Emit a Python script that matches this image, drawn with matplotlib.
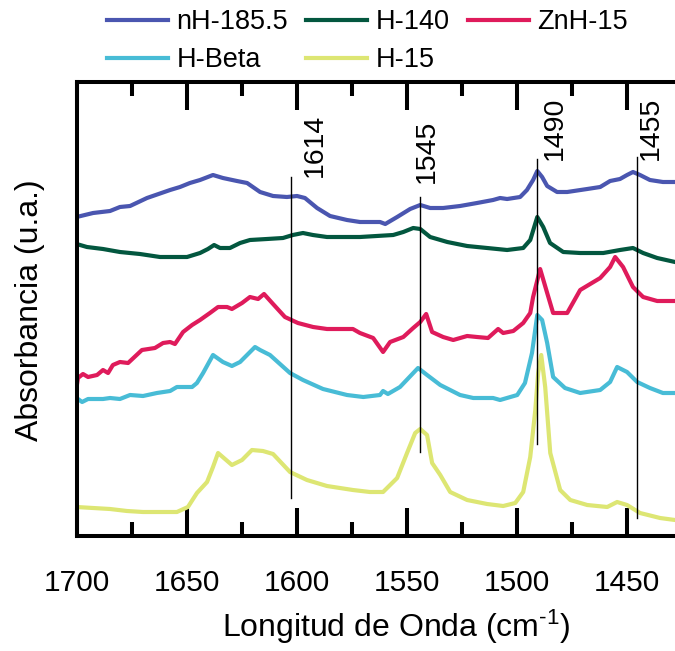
#!/usr/bin/env python
# -*- coding: utf-8 -*-
"""Espectros IR (región 1700-1425 cm-1) de cinco muestras, desplazados en vertical."""
import matplotlib

matplotlib.use("Agg")
import matplotlib.pyplot as plt
from matplotlib.ticker import MultipleLocator

plt.rcParams["font.family"] = ["Liberation Sans", "DejaVu Sans"]
plt.rcParams["mathtext.fontset"] = "custom"
plt.rcParams["mathtext.rm"] = "Liberation Sans"
plt.rcParams["mathtext.default"] = "regular"

# --- datos (número de onda, absorbancia con desplazamiento) ---
wn_nh185 = [1700, 1692.5, 1684.8, 1680.3, 1675.7, 1668, 1657.5, 1653, 1648.5, 1643.9,
            1638, 1633.5, 1627.1, 1622.5, 1616.6, 1610.7, 1604.4, 1599.8, 1596.2, 1590.7,
            1584.8, 1577.1, 1571.2, 1562.1, 1559.7, 1554.3, 1548.4, 1543.8, 1539.3, 1533.4,
            1525.7, 1518, 1510.7, 1507.5, 1504.3, 1498.4, 1495.3, 1492.5, 1490.6, 1488.4,
            1486.1, 1481.6, 1477, 1467.9, 1462, 1457.5, 1453, 1449.8, 1447.1, 1443.9,
            1439.4, 1433.5, 1428]
ab_nh185 = [3.19, 3.23, 3.25, 3.29, 3.30, 3.38, 3.46, 3.49, 3.53, 3.56,
            3.61, 3.58, 3.55, 3.53, 3.44, 3.40, 3.39, 3.40, 3.38, 3.28,
            3.20, 3.16, 3.14, 3.14, 3.12, 3.19, 3.27, 3.31, 3.28, 3.28,
            3.30, 3.33, 3.36, 3.38, 3.37, 3.39, 3.46, 3.56, 3.65, 3.59,
            3.50, 3.44, 3.44, 3.47, 3.49, 3.55, 3.57, 3.61, 3.64, 3.61,
            3.56, 3.54, 3.54]

wn_h140 = [1700, 1695.3, 1688, 1680.3, 1671.2, 1662.1, 1649.8, 1643.9, 1640.3, 1637.5,
           1634.8, 1630.3, 1625.7, 1621.2, 1613.5, 1606.2, 1601.7, 1597.1, 1592.6, 1586.2,
           1571.2, 1556.1, 1551.5, 1547, 1543.8, 1539.3, 1531.5, 1522.5, 1513.4, 1504.3,
           1497, 1493.8, 1490.6, 1487.9, 1484.8, 1478.8, 1471.1, 1460.6, 1453, 1447.1,
           1442.5, 1436.1, 1428]
ab_h140 = [2.92, 2.89, 2.87, 2.84, 2.82, 2.79, 2.79, 2.83, 2.87, 2.91,
           2.88, 2.88, 2.93, 2.96, 2.97, 2.98, 3.01, 3.03, 3.01, 2.99,
           2.99, 3.01, 3.04, 3.08, 3.07, 2.99, 2.94, 2.90, 2.88, 2.86,
           2.88, 2.96, 3.19, 3.09, 2.93, 2.84, 2.83, 2.83, 2.86, 2.88,
           2.83, 2.78, 2.74]

wn_znh15 = [1700, 1699.4, 1697.1, 1694.8, 1690.7, 1688, 1685.7, 1683.5, 1680.3, 1676.6,
            1670.3, 1664.4, 1660.7, 1657.5, 1655.3, 1651.6, 1647.5, 1643.9, 1639.4, 1635.7,
            1631.6, 1629.4, 1624.8, 1621.2, 1617.5, 1614.8, 1610.7, 1605.3, 1599.4, 1592.5,
            1586.2, 1574.4, 1571.2, 1565.2, 1560.7, 1557.5, 1551.5, 1547, 1543.8, 1541.1,
            1538.4, 1533.4, 1528.8, 1522.5, 1518, 1513, 1508.4, 1506.1, 1501.5, 1497,
            1493.8, 1492.5, 1489.3, 1486.1, 1483.4, 1477, 1471.1, 1462, 1457.5, 1455.2,
            1451.6, 1447.1, 1442.5, 1436.1, 1428]
ab_znh15 = [1.49, 1.58, 1.62, 1.59, 1.61, 1.66, 1.63, 1.71, 1.74, 1.73,
            1.86, 1.88, 1.93, 1.94, 1.92, 2.04, 2.11, 2.16, 2.23, 2.29,
            2.29, 2.27, 2.33, 2.39, 2.37, 2.42, 2.32, 2.19, 2.13, 2.09,
            2.07, 2.07, 2.03, 1.98, 1.84, 1.94, 1.99, 2.08, 2.14, 2.22,
            2.04, 1.99, 1.96, 2.00, 1.99, 1.98, 2.07, 2.03, 2.05, 2.13,
            2.23, 2.39, 2.67, 2.43, 2.23, 2.23, 2.46, 2.58, 2.69, 2.79,
            2.69, 2.49, 2.39, 2.35, 2.35]

wn_hbeta = [1700, 1697.5, 1694.8, 1688, 1684.8, 1680.3, 1675.7, 1669.8, 1663.5, 1657.5,
            1654.4, 1647.5, 1645.3, 1642.5, 1638, 1633.5, 1629.4, 1625.7, 1618.9, 1616.6,
            1612.1, 1603, 1597.1, 1588, 1577.1, 1569.7, 1562.1, 1560.7, 1558.5, 1553,
            1544.8, 1540.7, 1534.7, 1525.7, 1519.7, 1510.7, 1507.5, 1499.7, 1496.2, 1493,
            1490.6, 1488.4, 1486.1, 1483.4, 1478, 1471.1, 1462, 1457.5, 1454.3, 1449.8,
            1445.2, 1439.4, 1433.5, 1428]
ab_hbeta = [1.38, 1.34, 1.37, 1.37, 1.38, 1.37, 1.41, 1.40, 1.43, 1.45,
            1.49, 1.49, 1.53, 1.63, 1.81, 1.74, 1.70, 1.74, 1.89, 1.86,
            1.81, 1.63, 1.56, 1.47, 1.41, 1.39, 1.41, 1.45, 1.42, 1.49,
            1.68, 1.61, 1.51, 1.41, 1.38, 1.38, 1.36, 1.41, 1.53, 1.83,
            2.21, 2.16, 1.93, 1.59, 1.48, 1.43, 1.46, 1.54, 1.69, 1.64,
            1.54, 1.48, 1.43, 1.43]

wn_h15 = [1700, 1692.5, 1684.8, 1677.1, 1669.8, 1662.1, 1654.4, 1649.4, 1645.3, 1640.7,
          1638, 1635.7, 1629.4, 1624.8, 1620.3, 1615.3, 1610.7, 1603, 1595.3, 1586.2,
          1574.4, 1566.7, 1560.7, 1554.3, 1549.8, 1546.1, 1543.8, 1540.7, 1538.4, 1534.7,
          1530.2, 1522.5, 1513.4, 1506.1, 1500.6, 1497, 1493.8, 1491.5, 1490.2, 1488.8,
          1487, 1484.7, 1480.2, 1475.6, 1467.9, 1458.8, 1454.3, 1449.8, 1443.9, 1434.8,
          1428]
ab_h15 = [0.29, 0.28, 0.27, 0.25, 0.24, 0.24, 0.24, 0.29, 0.43, 0.54,
          0.69, 0.83, 0.71, 0.76, 0.86, 0.85, 0.82, 0.64, 0.56, 0.50,
          0.46, 0.44, 0.44, 0.58, 0.83, 1.03, 1.07, 1.01, 0.73, 0.61,
          0.44, 0.36, 0.32, 0.30, 0.33, 0.44, 0.79, 1.26, 1.63, 1.81,
          1.49, 0.83, 0.46, 0.36, 0.31, 0.29, 0.34, 0.31, 0.23, 0.18,
          0.16]

series_names = ["nH-185.5", "H-140", "ZnH-15", "H-Beta", "H-15"]
series_colors = ["#4a56b0", "#03573f", "#df1b5b", "#48bcd6", "#dde673"]

# líneas de referencia: posición, extremo superior/inferior y etiqueta
peak_pos = [1602.5, 1544, 1490.7, 1445.3]
peak_top = [3.59, 3.39, 3.77, 3.79]
peak_bottom = [0.38, 0.84, 0.92, 0.18]
peak_labels = ["1614", "1545", "1490", "1455"]
label_x = [1597.5, 1546.6, 1488.4, 1444.8]
label_y = [3.59, 3.53, 3.76, 3.76]

W, H = 675, 651


def main() -> None:
    fig = plt.figure(figsize=(W / 100, H / 100), dpi=100)
    x0, x1 = 76.6, 675
    y_top, y_bot = 82, 536
    ax = fig.add_axes([x0 / W, 1 - y_bot / H, (x1 - x0) / W, (y_bot - y_top) / H])

    curves = [(wn_nh185, ab_nh185), (wn_h140, ab_h140), (wn_znh15, ab_znh15),
              (wn_hbeta, ab_hbeta), (wn_h15, ab_h15)]
    handles = []
    for (wn, ab), name, col in zip(curves, series_names, series_colors):
        (ln,) = ax.plot(wn, ab, color=col, lw=3.0, label=name, solid_joinstyle="round")
        handles.append(ln)

    for xp, yt, yb in zip(peak_pos, peak_top, peak_bottom):
        ax.plot([xp, xp], [yb, yt], color="black", lw=1.0, zorder=5)
    for lx, ly, lab in zip(label_x, label_y, peak_labels):
        ax.text(lx, ly, lab, rotation=90, ha="left", va="bottom", fontsize=20.5)

    ax.set_xlim(1700, 1700 - (x1 - x0) / 2.2)
    ax.set_ylim(0, 4.54)

    ax.xaxis.set_major_locator(MultipleLocator(50))
    ax.xaxis.set_minor_locator(MultipleLocator(25))
    ax.tick_params(axis="x", which="both", direction="in", top=True, bottom=True,
                   labelsize=21.5, pad=24, width=2.9)
    ax.tick_params(axis="x", which="major", length=20)
    ax.tick_params(axis="x", which="minor", length=10)
    ax.set_yticks([])
    for side in ("left", "top", "bottom"):
        ax.spines[side].set_linewidth(2.9)
    ax.spines["right"].set_visible(False)

    # superíndice con guion corto, como en el original
    fig.text(396 / W, 1 - 637 / H, "Longitud de Onda (cm$^{\u2010 1}$)", fontsize=23,
             ha="center", va="baseline")
    fig.text(30 / W, 1 - 310 / H, "Absorbancia (u.a.)", fontsize=23, rotation=90,
             ha="center", va="center")

    order = [0, 3, 1, 4, 2]
    fig.legend([handles[i] for i in order], [series_names[i] for i in order],
               loc="upper left", bbox_to_anchor=(107 / W, 1 - 9 / H), ncol=3,
               frameon=False, fontsize=19.5, handlelength=2.26, handletextpad=0.3,
               columnspacing=0.67, labelspacing=0.45, borderpad=0, borderaxespad=0)

    fig.savefig("out.png", dpi=100)
    plt.close(fig)


if __name__ == "__main__":
    main()
